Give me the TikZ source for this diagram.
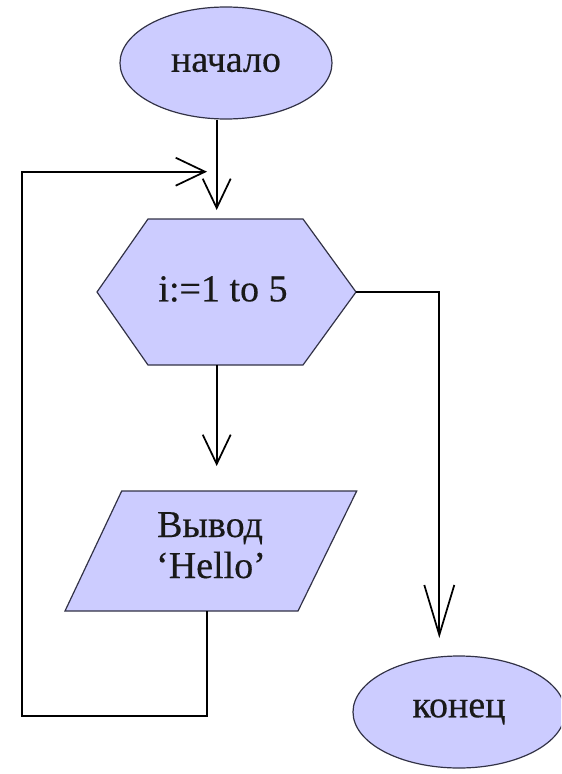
\documentclass[tikz,border=0pt]{standalone}
\usepackage{fontspec}
\setmainfont{Liberation Serif}
\newfontfamily\flowfont[FakeBold=0.4]{Liberation Serif}
\usetikzlibrary{arrows.meta,shapes.geometric}
\definecolor{blockfill}{RGB}{204,204,255}
\definecolor{blockline}{RGB}{50,50,70}
\begin{document}
\begin{tikzpicture}[x=0.75pt,y=-0.75pt,
  block/.style={fill=blockfill, draw=blockline, line width=0.9pt, line join=miter},
  txt/.style={font=\flowfont\fontsize{28.5}{31}\selectfont, text=black!90, inner sep=0pt},
  term/.style={block, ellipse, minimum width=159pt, minimum height=84pt, inner sep=0pt},
  conn/.style={line width=1.3pt, black, line join=miter},
  arr/.style={conn, -{Straight Barb[length=22pt, width=21pt]}},
  longarr/.style={conn, -{Straight Barb[length=37.5pt, width=22.5pt]}}
]
\useasboundingbox (0,0) rectangle (561,774);
\clip (0,0) rectangle (561,774);

% terminals
\node[term, txt] (start) at (226,63) {начало};
\node[term, txt] (stop) at (459,712) {конец};

% loop header (hexagon)
\path[block] (97,292) -- (148,219) -- (303,219) -- (356,292) -- (303,365) -- (148,365) -- cycle;
\node[txt] (loop) at (223,289) {i:=1 to 5};
\coordinate (loopIn) at (216.7,210);
\coordinate (loopE) at (356,292);
\coordinate (loopS) at (216.7,365);

% output (parallelogram)
\path[block] (121.7,491) -- (356.7,491) -- (298,611) -- (65,611) -- cycle;
\node[txt, anchor=base] (out1) at (210,537) {Вывод};
\node[txt, anchor=base] (out2) at (211,578) {‘Hello’};
\coordinate (outIn) at (216.7,466);
\coordinate (outS) at (207,611);

% return path of the loop
\coordinate (backL) at (21.7,716);
\coordinate (back) at (207,171.7);
\coordinate (stopIn) at (439.3,638);

% connectors
\draw[arr] (start.south -| loopIn) -- (loopIn);
\draw[arr] (loopS) -- (outIn);
\draw[arr] (outS) |- (backL) |- (back);
\draw[longarr] (loopE) -| (stopIn);
\end{tikzpicture}
\end{document}
